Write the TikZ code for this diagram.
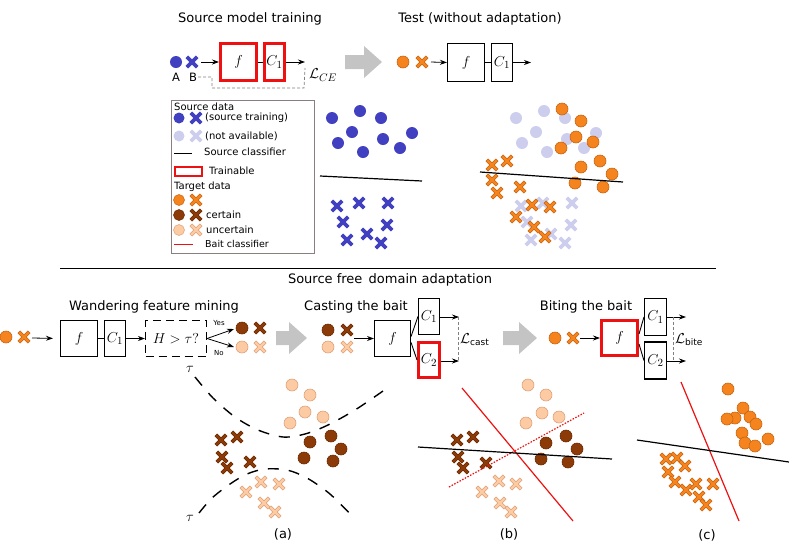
\documentclass[tikz,border=0pt]{standalone}
\usepackage[no-math]{fontspec}
\setmainfont{DejaVu Sans}
\usetikzlibrary{arrows.meta,calc}
\definecolor{blueC}{HTML}{4040C0}
\definecolor{lavC}{HTML}{CDCDEE}
\definecolor{orC}{HTML}{F5841F}
\definecolor{orD}{HTML}{C8640F}
\definecolor{brC}{HTML}{8C3B08}
\definecolor{brD}{HTML}{6A2A00}
\definecolor{peC}{HTML}{FDCBA3}
\definecolor{peD}{HTML}{DDA178}
\definecolor{arrG}{HTML}{C4C4C4}
\definecolor{redC}{HTML}{EE1111}
\definecolor{legB}{HTML}{8A7F7F}
\newcommand\drawX[4]{%
 \draw[#2,line width=3.6pt,line cap=rect] (#3-3.9,#4-3.9)--(#3+3.9,#4+3.9) (#3-3.9,#4+3.9)--(#3+3.9,#4-3.9);
 \draw[#1,line width=2.4pt,line cap=rect] (#3-3.9,#4-3.9)--(#3+3.9,#4+3.9) (#3-3.9,#4+3.9)--(#3+3.9,#4-3.9);}
\newcommand\ptc[4]{\filldraw[fill=#1,draw=#2,line width=0.6pt] (#3,#4) circle (6);}
\newcommand\grayarrow[3]{\fill[arrG] (#1,#2-7) -- (#1+#3-18,#2-7) -- (#1+#3-18,#2-16) -- (#1+#3,#2) -- (#1+#3-18,#2+16) -- (#1+#3-18,#2+7) -- (#1,#2+7) -- cycle;}
\begin{document}
\begin{tikzpicture}[x=1pt,y=-1pt,
  box/.style={draw, line width=1.1pt, inner sep=0, font=\fontsize{15}{15}\selectfont},
  rbox/.style={draw=redC, line width=3pt, inner sep=0, font=\fontsize{15}{15}\selectfont},
  ttl/.style={font=\fontsize{13}{15}\selectfont, inner sep=0},
  leg/.style={font=\fontsize{10}{12}\selectfont, anchor=west, inner sep=0},
  conn/.style={-{Stealth[length=7pt,width=5pt]}, line width=0.8pt},
  dsh/.style={gray, line width=0.7pt, dash pattern=on 3pt off 2pt},
  hyp/.style={line width=1.4pt, dash pattern=on 11pt off 10pt},
  mth/.style={font=\fontsize{15}{15}\selectfont, inner sep=0}]
\useasboundingbox (0,0) rectangle (789,558);

% ---------- top titles ----------
\node[ttl] (t1) at (250,19) {Source model training};
\node[ttl] (t2) at (480,19) {Test (without adaptation)};

% ---------- source model training ----------
\fill[blueC] (176,62) circle (6);
\drawX{blueC}{blueC}{192}{62}
\node[font=\fontsize{11.5}{11.5}\selectfont, inner sep=1pt] (lA) at (176,77) {A};
\node[font=\fontsize{11.5}{11.5}\selectfont, inner sep=1pt] (lB) at (193,77) {B};
\coordinate (inA) at (201,62);
\node[rbox, minimum width=36pt, minimum height=37pt] (f1) at (238.5,62) {$f$};
\node[rbox, minimum width=20pt, minimum height=37pt] (c1a) at (274.5,62) {$C_1$};
\draw[conn] (inA) -- (f1.west);
\draw[line width=0.9pt] (f1.east) -- (c1a.west);
\coordinate (outA) at (305,62);
\draw[conn] (c1a.east) -- (outA);
\node[mth] (lce) at (323,75) {$\mathcal{L}_{CE}$};
\draw[dsh] (lB.east) -- (212,77) -- (212,88) -- (304,88) -- ([yshift=-6pt]outA);

\grayarrow{345}{62}{37}

% ---------- test ----------
\ptc{orC}{orD}{403}{62}
\drawX{orC}{orD}{422}{62}
\coordinate (inB) at (431,62);
\node[box, minimum width=37pt, minimum height=38pt] (f2) at (466,62.5) {$f$};
\node[box, minimum width=21pt, minimum height=38pt] (c1b) at (502,62.5) {$C_1$};
\draw[conn] (inB) -- (f2.west);
\draw[line width=0.9pt] (f2.east) -- (c1b.west);
\coordinate (outB) at (531,62.5);
\draw[conn] (c1b.east) -- (outB);

% ---------- legend ----------
\draw[legB, line width=0.8pt] (171,100) rectangle (314,253);
\node[leg] (lg1) at (174,107) {Source data};
\fill[blueC] (179,118) circle (5.5); \drawX{blueC}{blueC}{196}{118}
\node[leg] (lg2) at (205,118) {(source training)};
\fill[lavC] (179,136) circle (5.5); \drawX{lavC}{lavC}{196}{136}
\node[leg] (lg3) at (205,136) {(not available)};
\draw[line width=1pt] (174,153) -- (192,153);
\node[leg] (lg4) at (204,152) {Source classifier};
\draw[redC, line width=2.5pt] (175,167) rectangle (202,176);
\node[leg] (lg5) at (209,171) {Trainable};
\node[leg] (lg6) at (174,187) {Target data};
\filldraw[fill=orC,draw=orD,line width=0.5pt] (179,200) circle (5.5); \drawX{orC}{orD}{196}{200}
\filldraw[fill=brC,draw=brD,line width=0.5pt] (179,215) circle (5.5); \drawX{brC}{brD}{196}{215}
\node[leg] (lg7) at (206,215) {certain};
\filldraw[fill=peC,draw=peD,line width=0.5pt] (179,230) circle (5.5); \drawX{peC}{peD}{196}{230}
\node[leg] (lg8) at (206,230) {uncertain};
\draw[redC, line width=1pt] (174,244) -- (193,244);
\node[leg, font=\fontsize{9.5}{11}\selectfont] (lg9) at (205,244) {Bait classifier};

% ---------- source scatter ----------
\foreach \a/\b in {332/118,360/111,381/118,352/132,338/143,383/139,363/152,400/148,412/133}
  {\fill[blueC] (\a,\b) circle (6);}
\foreach \a/\b in {337/206,359/203,388/203,343/222,387/225,347/240,367/234,381/243}
  {\drawX{blueC}{blueC}{\a}{\b}}
\draw[line width=1.2pt] (320,176) -- (422,181);

% ---------- test scatter ----------
\foreach \a/\b in {332/118,360/111,381/118,352/132,338/143,383/139,363/152,400/148,412/133}
  {\fill[lavC] (\a+184,\b) circle (6);}
\foreach \a/\b in {337/206,359/203,388/203,343/222,387/225,347/240,367/234,381/243}
  {\drawX{lavC}{lavC}{\a+184}{\b}}
\foreach \a/\b in {562/109,581/121,576/137,593/142,561/148,600/161,581/167,612/174,575/183,603/187}
  {\ptc{orC}{orD}{\a}{\b}}
\foreach \a/\b in {492/165,507/161,492/180,497/193,520/187,532/205,550/207,516/217,534/227,545/237}
  {\drawX{orC}{orD}{\a}{\b}}
\draw[line width=1.2pt] (480,172) -- (623,182);

% ---------- separator ----------
\draw[line width=1pt] (60,268) -- (716,268);
\node[ttl] (t3) at (390,280) {Source free\, domain adaptation};

% ---------- wandering feature mining ----------
\node[ttl] (t4) at (154,307) {Wandering feature mining};
\ptc{orC}{orD}{6}{337}
\drawX{orC}{orD}{24}{337}
\coordinate (inC) at (32,338);
\node[box, minimum width=37pt, minimum height=36pt] (f3) at (79,338.5) {$f$};
\node[box, minimum width=21pt, minimum height=36pt] (c1c) at (115,338.5) {$C_1$};
\node[draw, line width=1.2pt, dash pattern=on 8pt off 5pt, minimum width=61pt, minimum height=36pt, inner sep=0, font=\fontsize{15}{15}\selectfont] (hb) at (176,338.5) {$H>\tau?$};
\draw[conn, shorten >=7pt] (inC) -- (f3.west);
\draw[line width=0.9pt] (f3.east) -- (c1c.west);
\draw[conn] (c1c.east) -- (hb.west);
\coordinate (yesP) at (234,329);
\coordinate (noP) at (234,347);
\draw[conn] (hb.east) -- (yesP);
\draw[conn] (hb.east) -- (noP);
\node[font=\fontsize{7}{7}\selectfont, inner sep=0] (yes) at (219,323) {Yes};
\node[font=\fontsize{7}{7}\selectfont, inner sep=0] (no) at (219,353) {No};
\ptc{brC}{brD}{242}{328} \drawX{brC}{brD}{260}{328}
\ptc{peC}{peD}{242}{347} \drawX{peC}{peD}{260}{347}

\grayarrow{276}{338}{31}

% ---------- casting the bait ----------
\node[ttl] (t5) at (356,307) {Casting the bait};
\ptc{brC}{brD}{328}{330} \drawX{brC}{brD}{347}{330}
\ptc{peC}{peD}{328}{347} \drawX{peC}{peD}{347}{347}
\coordinate (inD) at (354,338.5);
\node[box, minimum width=36pt, minimum height=36pt] (f4) at (392.5,338.5) {$f$};
\node[box, minimum width=21pt, minimum height=36pt] (c1d) at (429,316.5) {$C_1$};
\node[rbox, minimum width=21pt, minimum height=35pt] (c2d) at (429,360) {$C_2$};
\draw[conn] (inD) -- (f4.west);
\draw[line width=0.9pt] ([yshift=2pt]f4.east) -- (c1d.west);
\draw[line width=0.9pt] ([yshift=-4pt]f4.east) -- (c2d.west);
\coordinate (o1d) at (459,317);
\coordinate (o2d) at (459,361);
\draw[conn] (c1d.east |- o1d) -- (o1d);
\draw[conn] (c2d.east |- o2d) -- (o2d);
\draw[dsh] ([xshift=-1pt]o1d) -- ([xshift=-1pt]o2d);
\node[mth, anchor=west] (lcast) at (460,340) {$\mathcal{L}_{\mbox{\fontsize{9}{9}\selectfont cast}}$};

\grayarrow{503}{338}{34}

% ---------- biting the bait ----------
\node[ttl] (t6) at (586,307) {Biting the bait};
\ptc{orC}{orD}{555}{338}
\drawX{orC}{orD}{573}{338}
\coordinate (inE) at (580,338);
\node[rbox, minimum width=36pt, minimum height=35pt] (f5) at (619.5,338) {$f$};
\node[box, minimum width=22pt, minimum height=37pt] (c1e) at (655.5,317) {$C_1$};
\node[box, minimum width=22pt, minimum height=37pt] (c2e) at (655.5,360.5) {$C_2$};
\draw[conn] (inE) -- (f5.west);
\draw[line width=0.9pt] ([yshift=4pt]f5.east) -- (c1e.west);
\draw[line width=0.9pt] ([yshift=-6pt]f5.east) -- (c2e.west);
\coordinate (o1e) at (686,317);
\coordinate (o2e) at (686,361);
\draw[conn] (c1e.east |- o1e) -- (o1e);
\draw[conn] (c2e.east |- o2e) -- (o2e);
\draw[dsh] (673,317) -- (673,361);
\node[mth, anchor=west] (lbite) at (675,340) {$\mathcal{L}_{\mbox{\fontsize{9}{9}\selectfont bite}}$};

% ---------- panel (a) ----------
\node[mth] (tau1) at (190,369) {$\tau$};
\node[mth] (tau2) at (190,518) {$\tau$};
\draw[hyp] plot[smooth] coordinates {(195,377) (213,398) (235,417) (258,430) (283,437) (305,434) (328,425) (355,410) (383,391)};
\draw[hyp] plot[smooth] coordinates {(199,513) (212,498) (230,484) (247,474) (265,469) (287,470) (307,478) (330,494) (355,519)};
\foreach \a/\b in {292/385,310/395,305/412,323/417,290/423}
  {\ptc{peC}{peD}{\a}{\b}}
\foreach \a/\b in {310/442,331/436,341/449,304/458,333/461}
  {\ptc{brC}{brD}{\a}{\b}}
\foreach \a/\b in {221/440,237/437,222/457,227/468,250/462}
  {\drawX{brC}{brD}{\a}{\b}}
\foreach \a/\b in {261/482,279/484,246/492,264/503,275/512}
  {\drawX{peC}{peD}{\a}{\b}}
\node[ttl] (la) at (283,534) {(a)};

% ---------- panel (b) ----------
\foreach \a/\b in {528/385,546/395,542/413,559/417,526/423}
  {\ptc{peC}{peD}{\a}{\b}}
\foreach \a/\b in {546/443,566/436,577/449,541/459,568/462}
  {\ptc{brC}{brD}{\a}{\b}}
\foreach \a/\b in {457/440,473/437,458/457,463/468,486/463}
  {\drawX{brC}{brD}{\a}{\b}}
\foreach \a/\b in {499/481,516/484,482/492,500/503,511/512}
  {\drawX{peC}{peD}{\a}{\b}}
\draw[redC, line width=1.2pt] (462,388) -- (573,521);
\draw[redC, line width=1.2pt, dash pattern=on 1.5pt off 1.5pt] (449,487) -- (584,413);
\draw[line width=1.2pt] (418,447) -- (612,459);
\node[ttl] (lb) at (509,534) {(b)};

% ---------- panel (c) ----------
\foreach \a/\b in {728/389,743/408,735/418,727/419,750/417,756/424,742/433,745/443,755/446,768/439}
  {\ptc{orC}{orD}{\a}{\b}}
\foreach \a/\b in {666/459,677/458,685/466,668/472,675/482,686/490,696/484,713/484,699/497,706/505}
  {\drawX{orC}{orD}{\a}{\b}}
\draw[redC, line width=1.2pt] (681,382) -- (739,521);
\draw[line width=1.2pt] (637,440) -- (789,462);
\node[ttl] (lc) at (707,535) {(c)};
\end{tikzpicture}
\end{document}
